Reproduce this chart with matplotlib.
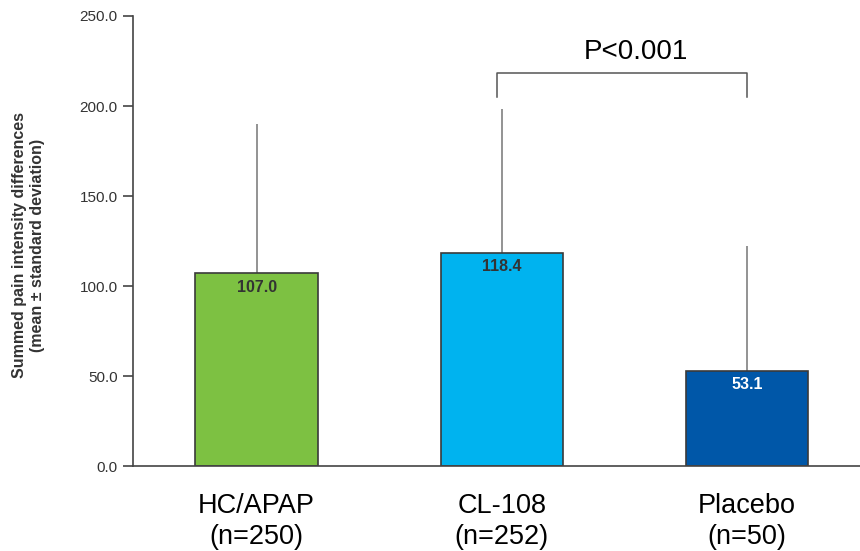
import matplotlib
matplotlib.use("Agg")
import matplotlib.pyplot as plt

categories = ["HC/APAP\n(n=250)", "CL-108\n(n=252)", "Placebo\n(n=50)"]
means = [107.0, 118.4, 53.1]
sds = [83.0, 80.0, 69.0]
value_labels = ["107.0", "118.4", "53.1"]
yticks = [0, 50, 100, 150, 200, 250]
colors = ["#7DC142", "#00B3EF", "#0057A8"]
label_colors = ["#333333", "#333333", "white"]

plt.rcParams["font.family"] = ["Liberation Sans", "DejaVu Sans"]
fig = plt.figure(figsize=(8.6, 5.51), dpi=100)
ax = fig.add_axes([0.1547, 0.154, 0.8453, 0.817])

x = list(range(len(categories)))
ax.bar(x, means, width=0.5, color=colors, edgecolor="#3a3a3a", linewidth=1.2, zorder=2)
ax.errorbar(x, means, yerr=[[0] * 3, sds], fmt="none", ecolor="#808080",
            elinewidth=1.2, capsize=0, zorder=1)

for xi, m, lab, c in zip(x, means, value_labels, label_colors):
    ax.text(xi, m - 7.7, lab, ha="center", va="center", fontsize=11.5,
            fontweight="bold", color=c, zorder=3)

# significance bracket
bx0, bx1 = 0.98, 2.0
ax.plot([bx0, bx0, bx1, bx1], [205, 218.3, 218.3, 205], color="#555555", lw=1.1,
        clip_on=False)
ax.text((bx0 + bx1) / 2 + 0.057, 230, "P<0.001", ha="center", va="center", fontsize=20)

ax.set_xlim(-0.504, 2.46)
ax.set_ylim(0, 250)
ax.set_yticks(yticks)
ax.set_yticklabels([f"{t:.1f}" for t in yticks], fontsize=11, color="#333333")
ax.set_xticks(x)
ax.set_xticklabels(categories, fontsize=19.5, linespacing=1.25)
ax.tick_params(axis="x", length=0, pad=19)
ax.tick_params(axis="y", length=7, width=1.2, color="#444444", pad=4)
for s in ["top", "right"]:
    ax.spines[s].set_visible(False)
for s in ["left", "bottom"]:
    ax.spines[s].set_color("#444444")
    ax.spines[s].set_linewidth(1.2)

fig.text(0.033, 0.555, "Summed pain intensity differences\n(mean \u00b1 standard deviation)",
         rotation=90, ha="center", va="center", fontsize=11.5, fontweight="bold",
         color="#333333", linespacing=1.2)

fig.savefig("out.png", dpi=100)
